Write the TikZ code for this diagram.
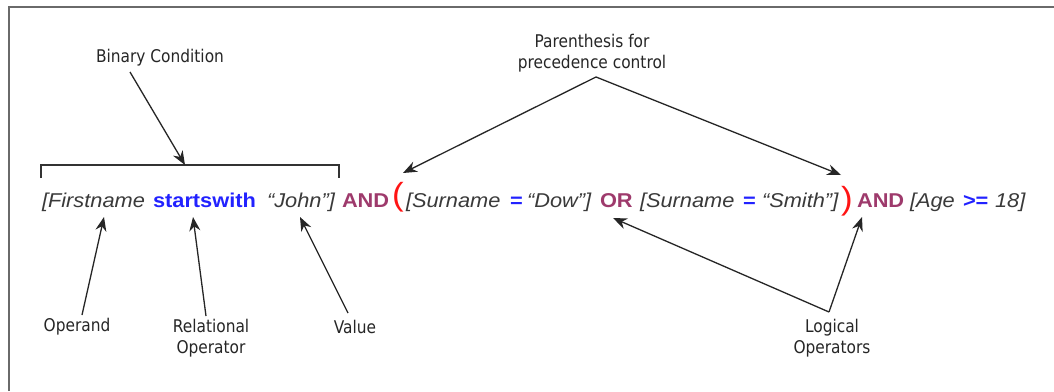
\documentclass[tikz,border=0pt]{standalone}
\usepackage{fontspec}
\usetikzlibrary{arrows.meta}
\newfontfamily\codefont[FakeStretch=1.09]{Liberation Sans}
\newfontfamily\labfont[FakeStretch=0.88]{DejaVu Sans}
\definecolor{codegray}{HTML}{3A3A3A}
\definecolor{opblue}{HTML}{2222FF}
\definecolor{logmaroon}{HTML}{9E3A6C}
\definecolor{parred}{HTML}{FF1414}
\definecolor{labgray}{HTML}{262626}
\definecolor{framegray}{HTML}{6A6A6A}
\tikzset{
  piece/.style={anchor=base west, inner sep=0pt, outer sep=0pt, font=\codefont\fontsize{20}{22}\selectfont},
  plain/.style={piece, text=codegray, font=\codefont\fontsize{20}{22}\selectfont\itshape},
  relop/.style={piece, text=opblue, font=\codefont\fontsize{20}{22}\selectfont\bfseries},
  logop/.style={piece, text=logmaroon, font=\codefont\fontsize{20}{22}\selectfont\bfseries},
  paren/.style={piece, text=parred, font=\codefont\fontsize{32}{34}\selectfont},
  lab/.style={inner sep=0pt, align=center, text=labgray, font=\labfont\fontsize{17.5}{21.5}\selectfont},
  callout/.style={draw=black!85, line width=1.3pt, -{Stealth[length=14pt,width=11pt]}},
  bracket/.style={draw=black!80, line width=1.3pt},
  frame/.style={draw=framegray, line width=2.2pt}
}
\begin{document}
\begin{tikzpicture}[x=1pt,y=-1pt]
\useasboundingbox (0,0) rectangle (1054,391);
\fill[white] (0,0) rectangle (1054,391);
% frame (only top and left edges visible)
\draw[frame] (9,391) -- (9,7) -- (1054,7);

% expression
\node[plain] (first) at (42,207) {[Firstname};
\node[relop] (sw) at (153,207) {startswith};
\node[plain] (john) at (267,207) {“John”]};
\node[logop] (and1) at (342,207) {AND};
\node[paren] (lp) at (392,205) {(};
\node[plain] (sur1) at (406,207) {[Surname};
\node[relop] (eq1) at (510,207) {=};
\node[plain] (dow) at (527,207) {“Dow”]};
\node[logop] (or) at (600,207) {OR};
\node[plain] (sur2) at (640,207) {[Surname};
\node[relop] (eq2) at (743,207) {=};
\node[plain] (smith) at (762,207) {“Smith”]};
\node[paren] (rp) at (841,209) {)};
\node[logop] (and2) at (857,207) {AND};
\node[plain] (age) at (910,207) {[Age};
\node[relop] (ge) at (963,207) {>=};
\node[plain] (eighteen) at (995,207) {18]};

% bracket over the binary condition
\coordinate (brL) at (41,178);
\coordinate (brR) at (339,178);
\coordinate (brTop) at (185,165);
\draw[bracket] (brL) -- (41,165) -- (339,165) -- (brR);

% labels
\node[lab] (binlab) at (160,58) {Binary Condition};
\node[lab] (parlab) at (592,53) {Parenthesis for\\precedence control};
\node[lab] (operand) at (77,327) {Operand};
\node[lab] (relational) at (211,338) {Relational\\Operator};
\node[lab] (value) at (355,327) {Value};
\node[lab] (logical) at (832,338) {Logical\\Operators};

% connector end points
\coordinate (binS) at (130,72);
\coordinate (parApex) at (596,77);
\coordinate (lpT) at (403,173);
\coordinate (rpT) at (841,175);
\coordinate (opS) at (82,315);
\coordinate (opT) at (104,217);
\coordinate (relS) at (206,316);
\coordinate (relT) at (193,217);
\coordinate (valS) at (348,313);
\coordinate (valT) at (300,217);
\coordinate (logApex) at (829,312);
\coordinate (orT) at (613,218);
\coordinate (andT) at (862,217);

% connectors
\draw[callout] (binS) -- (brTop);
\draw[callout] (parApex) -- (lpT);
\draw[callout] (parApex) -- (rpT);
\draw[callout] (opS) -- (opT);
\draw[callout] (relS) -- (relT);
\draw[callout] (valS) -- (valT);
\draw[callout] (logApex) -- (orT);
\draw[callout] (logApex) -- (andT);
\end{tikzpicture}
\end{document}
